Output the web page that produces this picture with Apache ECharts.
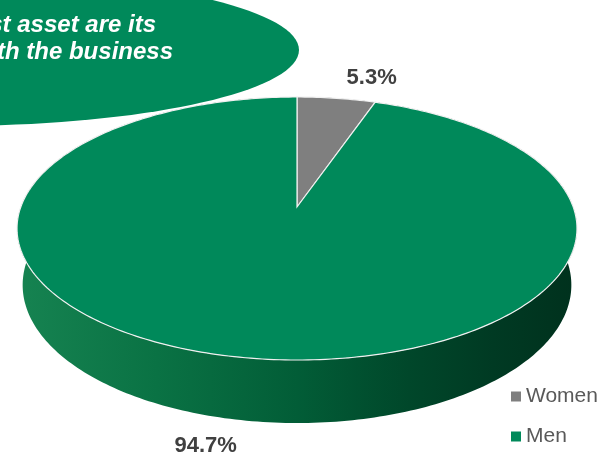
<!DOCTYPE html>
<html>
<head>
<meta charset="utf-8">
<script src="https://cdn.jsdelivr.net/npm/echarts@6/dist/echarts.min.js"></script>
<style>
  html, body { margin: 0; padding: 0; background: #ffffff; }
  #chart { width: 600px; height: 458px; }
</style>
</head>
<body>
<div id="chart"></div>
<script>
// Workforce split by gender, drawn as a tilted 3D pie
const categories = ['Women', 'Men'];
const shares = [5.3, 94.7];
const calloutLines = ['st asset are its', 'th the business'];

const FONT = "'Liberation Sans', Arial, Helvetica, sans-serif";
const topColors = ['#7f7f7f', '#00895a'];

// Camera used to project the disc (unit radius) onto the screen
const view = {
  cx: 297, cy: 207, focal: 1497, dist: 5.42,
  tilt: Math.asin(0.4634), thickness: 0.233
};

function project(X, Y, Z) {
  const s = Math.sin(view.tilt), c = Math.cos(view.tilt);
  const depth = view.dist - Y * s - Z * c;
  const up = Y * c - Z * s;
  return [view.cx + view.focal * X / depth, view.cy - view.focal * up / depth];
}
// theta: clockwise from 12 o'clock (the far side of the disc)
function rim(theta, Y) {
  return project(Math.sin(theta), Y, -Math.cos(theta));
}

function wallFill(i) {
  if (i === 0) {
    return new echarts.graphic.LinearGradient(17, 0, 577, 0, [
      { offset: 0, color: '#6a6a6a' }, { offset: 1, color: '#3a3a3a' }
    ], true);
  }
  return new echarts.graphic.LinearGradient(17, 0, 577, 0, [
    { offset: 0, color: '#168351' },
    { offset: 0.25, color: '#0a7244' },
    { offset: 0.5, color: '#025d37' },
    { offset: 0.7, color: '#00472a' },
    { offset: 0.85, color: '#003a23' },
    { offset: 1, color: '#00311d' }
  ], true);
}

const total = shares.reduce((a, b) => a + b, 0);

function makeRenderer(i) {
  return function (params, api) {
    const before = shares.slice(0, i).reduce((a, b) => a + b, 0);
    const start = before / total * Math.PI * 2;
    const end = start + api.value(0) / total * Math.PI * 2;
    const steps = Math.max(2, Math.ceil((end - start) / (Math.PI / 180)));
    const topPts = [project(0, 0, 0)];
    const upper = [], lower = [];
    for (let k = 0; k <= steps; k++) {
      const t = start + (end - start) * k / steps;
      upper.push(rim(t, 0));
      lower.push(rim(t, -view.thickness));
    }
    topPts.push(...upper);
    const wallPts = upper.concat(lower.slice().reverse());

    // label placed just outside the slice's outer edge
    const mid = (start + end) / 2;
    const front = Math.cos(mid) < 0;
    const anchor = rim(mid, front ? -view.thickness : 0);
    const apex = project(0, 0, 0);
    let dx = anchor[0] - apex[0], dy = anchor[1] - apex[1];
    const len = Math.hypot(dx, dy);
    dx /= len; dy /= len;
    const lx = anchor[0] + dx * 24;
    const ly = anchor[1] + dy * 24 + 2.5;
    const right = dx >= 0;

    return {
      type: 'group',
      children: [
        { type: 'polygon', z2: 1, shape: { points: wallPts },
          style: { fill: wallFill(i), stroke: null } },
        { type: 'polygon', z2: 5, shape: { points: topPts },
          style: { fill: topColors[i], stroke: '#f0f0f0', lineWidth: 1.2 } },
        { type: 'text', z2: 10, x: lx + (right ? 2 : -1), y: ly,
          style: {
            text: api.value(0).toFixed(1) + '%',
            font: 'bold 22px ' + FONT, fill: '#404040',
            align: right ? 'left' : 'right', verticalAlign: 'middle'
          } }
      ]
    };
  };
}

const chart = echarts.init(document.getElementById('chart'), null, { renderer: 'canvas' });
chart.setOption({
  animation: false,
  backgroundColor: '#ffffff',
  legend: {
    data: categories,
    orient: 'vertical',
    left: 511, top: 386, padding: 0,
    icon: 'rect', itemWidth: 10, itemHeight: 10, itemGap: 19,
    selectedMode: false,
    textStyle: { fontSize: 21, color: '#595959', fontFamily: FONT }
  },
  series: categories.map((name, i) => ({
    type: 'custom',
    name: name,
    coordinateSystem: 'none',
    itemStyle: { color: topColors[i] },
    renderItem: makeRenderer(i),
    data: [[shares[i]]]
  })),
  graphic: [
    {
      type: 'group', z: 100,
      children: [
        { type: 'ellipse', shape: { cx: -51, cy: 50, rx: 350, ry: 76 },
          style: { fill: '#00895a' } },
        { type: 'text', x: 156, y: 25,
          style: { text: calloutLines[0], font: 'italic bold 24px ' + FONT,
                   fill: '#ffffff', align: 'right', verticalAlign: 'middle' } },
        { type: 'text', x: 173, y: 52,
          style: { text: calloutLines[1], font: 'italic bold 24px ' + FONT,
                   fill: '#ffffff', align: 'right', verticalAlign: 'middle' } }
      ]
    }
  ]
});
</script>
</body>
</html>
